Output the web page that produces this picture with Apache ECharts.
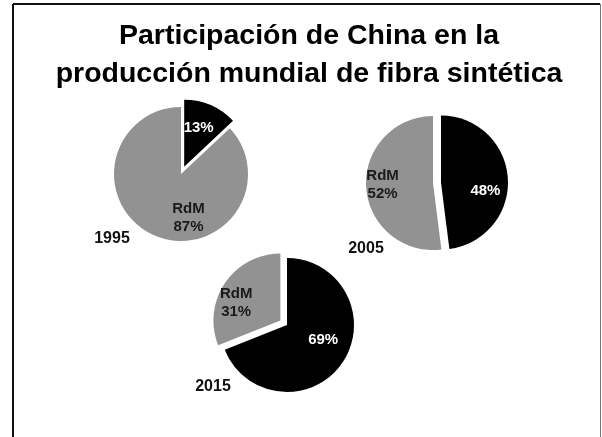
<!DOCTYPE html>
<html>
<head>
<meta charset="utf-8">
<script src="https://cdn.jsdelivr.net/npm/echarts@6/dist/echarts.min.js"></script>
<style>
  html, body { margin: 0; padding: 0; background: #fff; }
  #chart { width: 602px; height: 437px; }
</style>
</head>
<body>
<div id="chart"></div>
<script>
// data
const years = ["1995", "2005", "2015"];
const categories = ["China", "RdM"];
const chinaShare = [13, 48, 69];
const restShare = [87, 52, 31];
// which slice is pulled out in each pie
const explodedSlice = ["China", "China", "RdM"];

const centers = [[181, 174], [433, 183], [287, 325]];
const yearPos = [[107, 235], [361, 245], [208, 383]];
// nudges for the inside labels, [china, rdm]
const labelNudge = [
  [[0, -5], [22, 10]],
  [[8, 11], [-14, 0]],
  [[6, -6], [-14, 3]]
];

const FONT = "Liberation Sans, Arial, sans-serif";

const chart = echarts.init(document.getElementById("chart"));

const series = years.map((y, i) => {
  const values = [chinaShare[i], restShare[i]];
  return {
    type: "pie",
    center: centers[i],
    radius: 67,
    startAngle: 90,
    clockwise: true,
    selectedMode: "multiple",
    selectedOffset: 8,
    animation: false,
    silent: true,
    label: {
      show: true,
      position: "inside",
      fontFamily: FONT,
      fontWeight: "bold",
      fontSize: 15,
      lineHeight: 18,
    },
    labelLine: { show: false },
    labelLayout: function (p) {
      const n = labelNudge[i][p.dataIndex];
      return { dx: n[0], dy: n[1] };
    },
    itemStyle: { borderWidth: 0 },
    data: categories.map((c, k) => ({
      name: c,
      value: values[k],
      selected: explodedSlice[i] === c,
      itemStyle: { color: c === "China" ? "#000000" : "#929292" },
      label: {
        color: c === "China" ? "#ffffff" : "#1a1a1a",
        formatter: c === "China" ? "{c}%" : "RdM\n{c}%",
      },
    })),
  };
});

const titles = [
  {
    text: "Participación de China en la\nproducción mundial de fibra sintética",
    left: 304,
    top: 12,
    textAlign: "center",
    textStyle: {
      fontFamily: FONT,
      fontWeight: "bold",
      fontSize: 28.5,
      lineHeight: 38,
      color: "#000",
    },
  },
].concat(
  years.map((y, i) => ({
    text: y,
    left: yearPos[i][0],
    top: yearPos[i][1] - 9,
    textAlign: "center",
    textStyle: {
      fontFamily: FONT,
      fontWeight: "bold",
      fontSize: 16,
      color: "#111",
    },
  }))
);

chart.setOption({
  backgroundColor: "#fff",
  title: titles,
  graphic: [
    // frame round the slide
    { type: "line", shape: { x1: 13, y1: 4, x2: 600, y2: 4 }, style: { stroke: "#111", lineWidth: 2 } },
    { type: "line", shape: { x1: 13, y1: 4, x2: 13, y2: 437 }, style: { stroke: "#111", lineWidth: 2 } },
    { type: "line", shape: { x1: 600.5, y1: 4, x2: 600.5, y2: 437 }, style: { stroke: "#777", lineWidth: 1 } },
  ],
  series: series,
});
</script>
</body>
</html>
